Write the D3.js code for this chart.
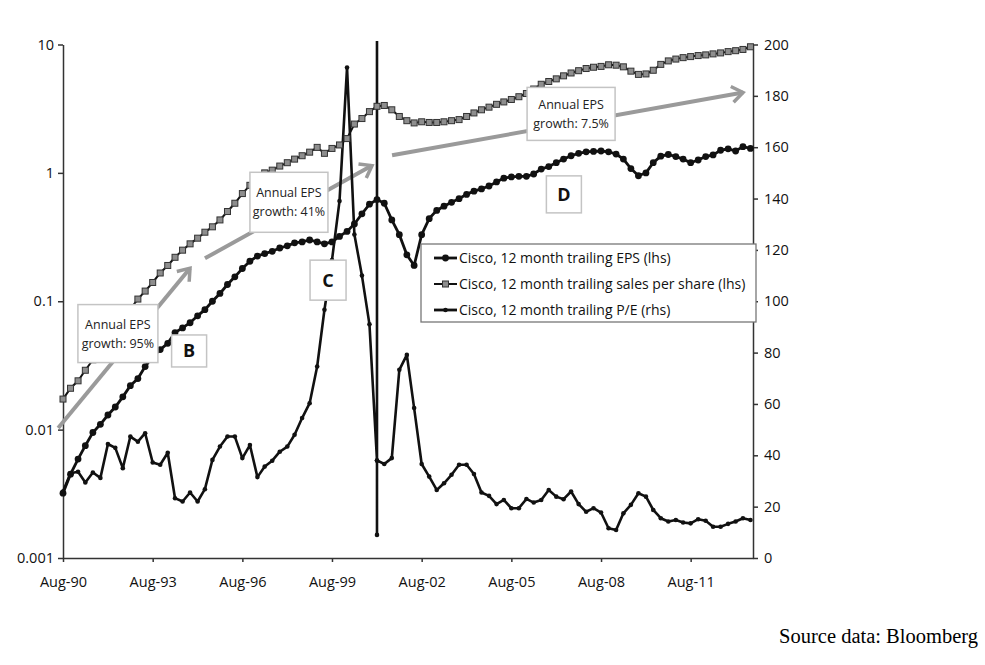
<!DOCTYPE html>
<html>
<head>
<meta charset="utf-8">
<script src="https://cdnjs.cloudflare.com/ajax/libs/d3/7.8.5/d3.min.js"></script>
<style>
  body { margin: 0; background: #fff; }
  svg { display: block; font-family: 'Open Sans', sans-serif; }
  .axis path, .axis line { stroke: #333; stroke-width: 1.5; }
  .axis text { font-size: 14.5px; fill: #111; font-family: 'Open Sans', sans-serif; }
</style>
</head>
<body>
<svg id="chart" width="985" height="665"></svg>
<script>
// quarterly series, first point Aug-90
const START = new Date(1990, 7, 1);

const epsValues = [
  0.0032, 0.0045, 0.0059, 0.0075, 0.0095, 0.011, 0.013, 0.015, 0.018, 0.022,
  0.025, 0.031, 0.037, 0.042, 0.047, 0.057, 0.062, 0.068, 0.077, 0.086,
  0.10, 0.115, 0.135, 0.155, 0.18, 0.205, 0.225, 0.235, 0.245, 0.26,
  0.27, 0.285, 0.29, 0.30, 0.29, 0.28, 0.29, 0.32, 0.35, 0.40,
  0.48, 0.57, 0.62, 0.58, 0.43, 0.33, 0.23, 0.19, 0.33, 0.44,
  0.51, 0.55, 0.59, 0.63, 0.68, 0.72, 0.75, 0.79, 0.85, 0.91,
  0.93, 0.94, 0.94, 0.98, 1.07, 1.12, 1.2, 1.28, 1.36, 1.42,
  1.46, 1.47, 1.48, 1.46, 1.40, 1.28, 1.08, 0.95, 1.0, 1.2,
  1.35, 1.39, 1.34, 1.28, 1.2, 1.26, 1.34, 1.38, 1.5, 1.54,
  1.48, 1.6, 1.55
];

const salesValues = [
  0.0173, 0.021, 0.024, 0.029, 0.035, 0.042, 0.050, 0.060, 0.072, 0.087,
  0.104, 0.12, 0.14, 0.166, 0.19, 0.22, 0.25, 0.28, 0.31, 0.345,
  0.38, 0.43, 0.50, 0.58, 0.69, 0.80, 0.92, 1.0, 1.05, 1.13,
  1.2, 1.28, 1.36, 1.45, 1.58, 1.42, 1.55, 1.65, 1.85, 2.4,
  2.65, 3.0, 3.3, 3.35, 3.1, 2.75, 2.55, 2.45, 2.5, 2.47,
  2.47, 2.5, 2.55, 2.6, 2.75, 2.93, 3.1, 3.25, 3.42, 3.57,
  3.73, 3.92, 4.15, 4.5, 4.9, 5.15, 5.4, 5.7, 6.0, 6.25,
  6.5, 6.65, 6.75, 6.95, 6.9, 6.7, 6.2, 5.85, 5.9, 6.3,
  7.0, 7.45, 7.7, 7.9, 8.05, 8.2, 8.3, 8.45, 8.6, 8.8,
  8.95, 9.15, 9.6
];

// Feb-01: earnings near zero, P/E shoots off the top and back
const peValues = [
  25.9, 33, 33.6, 29.4, 33.3, 31.2, 44.4, 42.9, 35, 47.3,
  45.3, 48.6, 37.2, 36.3, 41, 23.3, 22, 25.5, 22, 26.8,
  38.2, 43.4, 47.3, 47.3, 38.9, 44, 31.5, 35.6, 37.9, 41.4,
  43.4, 48, 54.5, 60.3, 74.6, 96.7, 116, 139, 191, 126,
  110, 91, [38, 1500, 9, 38], 36.6, 38.9, 73.3, 79.1, 58.4, 36.6, 31.7,
  26.5, 29.1, 32.4, 36.3, 36.3, 32.7, 25.5, 24.2, 21, 22.6,
  19.4, 19.4, 23, 21.6, 22.6, 26.5, 23.9, 22.9, 25.9, 21,
  18, 19.4, 17.7, 11.6, 10.9, 17.4, 20.7, 25.2, 23.9, 18.7,
  15.5, 14.2, 14.8, 13.8, 13.5, 15.1, 14.5, 12.2, 12.2, 13.3,
  14.2, 15.5, 14.8
];

const leftTicks = [0.001, 0.01, 0.1, 1, 10];
const rightTicks = [0, 20, 40, 60, 80, 100, 120, 140, 160, 180, 200];
const xTickYears = [1990, 1993, 1996, 1999, 2002, 2005, 2008, 2011];

const legendLabels = [
  'Cisco, 12 month trailing EPS (lhs)',
  'Cisco, 12 month trailing sales per share (lhs)',
  'Cisco, 12 month trailing P/E (rhs)'
];

// annotation anchors in [decimal year, lhs value]
const growthNotes = [
  { lines: ['Annual EPS', 'growth: 95%'], at: [1992.42, 0.056], w: 80, h: 58 },
  { lines: ['Annual EPS', 'growth: 41%'], at: [1998.14, 0.59], w: 78, h: 60 },
  { lines: ['Annual EPS', 'growth: 7.5%'], at: [2007.58, 2.88], w: 88, h: 53 }
];
const letterNotes = [
  { label: 'B', at: [1994.8, 0.041], w: 35, h: 32 },
  { label: 'C', at: [1999.45, 0.146], w: 36, h: 40 },
  { label: 'D', at: [2007.34, 0.68], w: 35, h: 37 }
];
const growthArrows = [
  [[1990.42, 0.0103], [1994.83, 0.181]],
  [[1995.33, 0.216], [2000.92, 1.14]],
  [[2001.59, 1.37], [2013.33, 4.23]]
];

const LEFT = 63;
const RIGHT = 753;
const TOP = 44.5;
const BOTTOM = 558;

const svg = d3.select('#chart');

const quarters = d3.range(epsValues.length).map((i) => d3.timeMonth.offset(START, i * 3));
const yearDate = (yr) => new Date(Math.floor(yr), 0, 1 + Math.round((yr % 1) * 365.25));

const x = d3.scaleTime()
  .domain([START, new Date(2013, 8, 1)])
  .range([LEFT, RIGHT]);
const yLeft = d3.scaleLog()
  .domain([0.001, 10])
  .range([BOTTOM, TOP]);
const yRight = d3.scaleLinear()
  .domain([0, 200])
  .range([BOTTOM, TOP]);

svg.append('rect')
  .attr('width', 985)
  .attr('height', 665)
  .attr('fill', '#fff');

svg.append('defs')
  .append('clipPath')
  .attr('id', 'plot-clip')
  .append('rect')
  .attr('x', LEFT - 5)
  .attr('y', 41)
  .attr('width', RIGHT - LEFT + 10)
  .attr('height', BOTTOM - 41 + 5);

svg.select('defs')
  .append('marker')
  .attr('id', 'chevron')
  .attr('markerUnits', 'userSpaceOnUse')
  .attr('viewBox', '-14 -10 18 20')
  .attr('markerWidth', 18)
  .attr('markerHeight', 20)
  .attr('refX', 0)
  .attr('refY', 0)
  .attr('orient', 'auto')
  .append('path')
  .attr('d', 'M-11,-8 L0,0 L-11,8')
  .attr('fill', 'none')
  .attr('stroke', '#9a9a9a')
  .attr('stroke-width', 3.5);

// axes
svg.append('g')
  .attr('class', 'axis')
  .attr('transform', `translate(${LEFT},0)`)
  .call(d3.axisLeft(yLeft)
    .tickValues(leftTicks)
    .tickFormat((d) => String(d))
    .tickSize(5)
    .tickSizeOuter(0))
  .call((g) => g.selectAll('text').attr('x', -9));

svg.append('g')
  .attr('class', 'axis')
  .attr('transform', `translate(${RIGHT},0)`)
  .call(d3.axisRight(yRight)
    .tickValues(rightTicks)
    .tickSize(5)
    .tickSizeOuter(0))
  .call((g) => g.selectAll('text').attr('x', 11));

svg.append('g')
  .attr('class', 'axis')
  .attr('transform', `translate(0,${BOTTOM})`)
  .call(d3.axisBottom(x)
    .tickValues(xTickYears.map((yr) => new Date(yr, 7, 1)))
    .tickFormat(d3.timeFormat('%b-%y'))
    .tickSize(4)
    .tickSizeOuter(0))
  .call((g) => g.selectAll('text').attr('y', 19));

// growth arrows sit under everything else
svg.append('g')
  .attr('id', 'arrows')
  .selectAll('line')
  .data(growthArrows)
  .enter()
    .append('line')
    .attr('x1', (d) => x(yearDate(d[0][0])))
    .attr('y1', (d) => yLeft(d[0][1]))
    .attr('x2', (d) => x(yearDate(d[1][0])))
    .attr('y2', (d) => yLeft(d[1][1]))
    .attr('stroke', '#9a9a9a')
    .attr('stroke-width', 4)
    .attr('marker-end', 'url(#chevron)');

const plot = svg.append('g')
  .attr('clip-path', 'url(#plot-clip)');

// P/E (rhs)
const pePoints = quarters.flatMap((date, i) => [].concat(peValues[i]).map((value) => ({ date, value })));
plot.append('path')
  .datum(pePoints)
  .attr('fill', 'none')
  .attr('stroke', '#111')
  .attr('stroke-width', 2.6)
  .attr('stroke-linejoin', 'round')
  .attr('d', d3.line()
    .x((d) => x(d.date))
    .y((d) => yRight(d.value)));
plot.append('g')
  .selectAll('circle')
  .data(pePoints.filter((d) => d.value <= 200))
  .enter()
    .append('circle')
    .attr('cx', (d) => x(d.date))
    .attr('cy', (d) => yRight(d.value))
    .attr('r', 2.3)
    .attr('fill', '#111');

// sales per share (lhs)
plot.append('path')
  .datum(salesValues)
  .attr('fill', 'none')
  .attr('stroke', '#111')
  .attr('stroke-width', 2)
  .attr('d', d3.line()
    .x((d, i) => x(quarters[i]))
    .y((d) => yLeft(d)));
plot.append('g')
  .selectAll('rect')
  .data(salesValues)
  .enter()
    .append('rect')
    .attr('x', (d, i) => x(quarters[i]) - 3)
    .attr('y', (d) => yLeft(d) - 3)
    .attr('width', 6)
    .attr('height', 6)
    .attr('fill', '#8e8e8e')
    .attr('stroke', '#333')
    .attr('stroke-width', 1);

// EPS (lhs)
plot.append('path')
  .datum(epsValues)
  .attr('fill', 'none')
  .attr('stroke', '#111')
  .attr('stroke-width', 2.8)
  .attr('d', d3.line()
    .x((d, i) => x(quarters[i]))
    .y((d) => yLeft(d)));
plot.append('g')
  .selectAll('circle')
  .data(epsValues)
  .enter()
    .append('circle')
    .attr('cx', (d, i) => x(quarters[i]))
    .attr('cy', (d) => yLeft(d))
    .attr('r', 3.4)
    .attr('fill', '#111');

// annotation boxes
const noteBox = (sel) => sel
  .append('rect')
  .attr('x', (d) => x(yearDate(d.at[0])) - d.w / 2)
  .attr('y', (d) => yLeft(d.at[1]) - d.h / 2)
  .attr('width', (d) => d.w)
  .attr('height', (d) => d.h)
  .attr('fill', '#fff')
  .attr('stroke', '#c4c4c4')
  .attr('stroke-width', 1.5);

const growthBoxes = svg.append('g')
  .selectAll('g')
  .data(growthNotes)
  .enter()
    .append('g');
growthBoxes.call(noteBox);
growthBoxes
  .selectAll('text')
  .data((d) => d.lines.map((line, k) => ({ line, k, d })))
  .enter()
    .append('text')
    .attr('x', (t) => x(yearDate(t.d.at[0])))
    .attr('y', (t) => yLeft(t.d.at[1]) + (t.k === 0 ? -5 : 14))
    .attr('text-anchor', 'middle')
    .attr('font-size', 12.5)
    .attr('fill', '#222')
    .text((t) => t.line);

const letterBoxes = svg.append('g')
  .selectAll('g')
  .data(letterNotes)
  .enter()
    .append('g');
letterBoxes.call(noteBox);
letterBoxes
  .append('text')
  .attr('x', (d) => x(yearDate(d.at[0])))
  .attr('y', (d) => yLeft(d.at[1]) + 6.5)
  .attr('text-anchor', 'middle')
  .attr('font-size', 18)
  .attr('font-weight', 'bold')
  .attr('fill', '#111')
  .text((d) => d.label);

// legend
const legend = svg.append('g')
  .attr('id', 'legend');
legend.append('rect')
  .attr('x', 421)
  .attr('y', 244)
  .attr('width', 335)
  .attr('height', 78)
  .attr('fill', '#fff')
  .attr('stroke', '#777')
  .attr('stroke-width', 1.3);

const items = legend.selectAll('g.item')
  .data(legendLabels)
  .enter()
    .append('g')
    .attr('class', 'item')
    .attr('transform', (d, i) => `translate(434,${258 + i * 26})`);
items.append('line')
  .attr('x1', 0)
  .attr('x2', 23)
  .attr('stroke', '#111')
  .attr('stroke-width', (d, i) => (i === 1 ? 2 : 2.8));
items.filter((d, i) => i === 0)
  .append('circle')
  .attr('cx', 11.5)
  .attr('r', 3.4)
  .attr('fill', '#111');
items.filter((d, i) => i === 1)
  .append('rect')
  .attr('x', 8.5)
  .attr('y', -3)
  .attr('width', 6)
  .attr('height', 6)
  .attr('fill', '#8e8e8e')
  .attr('stroke', '#333');
items.filter((d, i) => i === 2)
  .append('circle')
  .attr('cx', 11.5)
  .attr('r', 2.3)
  .attr('fill', '#111');
items.append('text')
  .attr('x', 25)
  .attr('y', 5)
  .attr('font-size', 14)
  .attr('fill', '#111')
  .text((d) => d);

svg.append('text')
  .attr('x', 978)
  .attr('y', 643)
  .attr('text-anchor', 'end')
  .attr('font-family', "'Liberation Serif', 'Times New Roman', serif")
  .attr('font-size', 20.5)
  .attr('fill', '#000')
  .text('Source data: Bloomberg');
</script>
</body>
</html>
